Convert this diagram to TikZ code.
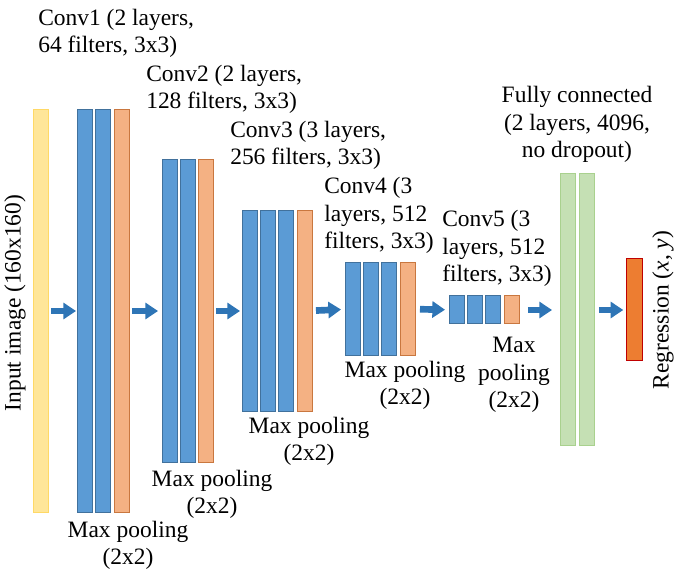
\documentclass[tikz,border=0pt]{standalone}
\usepackage{fontspec}
\setmainfont{Liberation Serif}
\usetikzlibrary{arrows.meta}
\definecolor{convfill}{HTML}{5B9BD5}
\definecolor{convline}{HTML}{41719C}
\definecolor{poolfill}{HTML}{F4B183}
\definecolor{poolline}{HTML}{C9773F}
\definecolor{inputfill}{HTML}{FFE699}
\definecolor{inputline}{HTML}{FFD966}
\definecolor{fcfill}{HTML}{C5E0B4}
\definecolor{fcline}{HTML}{A9D18E}
\definecolor{regfill}{HTML}{ED7D31}
\definecolor{regline}{HTML}{C00000}
\definecolor{flowblue}{HTML}{2E75B6}
\tikzset{
  bar/.style={draw, line width=0.75pt, inner sep=0pt, minimum width=11.6pt},
  convbar/.style={bar, fill=convfill, draw=convline},
  poolbar/.style={bar, fill=poolfill, draw=poolline},
  flow/.style={draw=flowblue, line width=5pt, -{Triangle[length=9.5pt,width=12pt]}},
  lbl/.style={font=\fontsize{17.6}{20.8}\selectfont, inner sep=0pt},
}

\begin{document}
\begin{tikzpicture}[x=0.75pt, y=-0.75pt]
		\useasboundingbox (0,0) rectangle (679,573);
		
		%%%%% INPUT %%%%%
		\node[bar, fill=inputfill, draw=inputline, minimum height=302.25pt] (inp) at (41.25,311) {};
		\node[lbl, rotate=90] (inptext) at (15,303) {Input image (160x160)};
		
		%%%%% CONV1 %%%%%
		\node[convbar, minimum height=302.25pt] (c1a) at (85.25,311) {};
		\node[convbar, minimum height=302.25pt] (c1b) at (103.25,311) {};
		\node[poolbar, minimum height=302.25pt] (c1p) at (121.75,311) {};
		
		%%%%% CONV2 %%%%%
		\node[convbar, minimum height=227.25pt] (c2a) at (170.25,311) {};
		\node[convbar, minimum height=227.25pt] (c2b) at (188.25,311) {};
		\node[poolbar, minimum height=227.25pt] (c2p) at (206.25,311) {};
		
		%%%%% CONV3 %%%%%
		\node[convbar, minimum height=150.75pt] (c3a) at (250.25,311) {};
		\node[convbar, minimum height=150.75pt] (c3b) at (268.25,311) {};
		\node[convbar, minimum height=150.75pt] (c3c) at (286.25,311) {};
		\node[poolbar, minimum height=150.75pt] (c3p) at (304.75,311) {};
		
		%%%%% CONV4 %%%%%
		\node[convbar, minimum height=69.75pt] (c4a) at (353.25,309) {};
		\node[convbar, minimum height=69.75pt] (c4b) at (371.25,309) {};
		\node[convbar, minimum height=69.75pt] (c4c) at (389.25,309) {};
		\node[poolbar, minimum height=69.75pt] (c4p) at (407.75,309) {};
		
		%%%%% CONV5 %%%%%
		\node[convbar, minimum height=21pt] (c5a) at (457.25,310) {};
		\node[convbar, minimum height=21pt] (c5b) at (475.25,310) {};
		\node[convbar, minimum height=21pt] (c5c) at (493.25,310) {};
		\node[poolbar, minimum height=21pt] (c5p) at (511.75,310) {};
		
		%%%%% FULLY CONNECTED + REGRESSION %%%%%
		\node[bar, fill=fcfill, draw=fcline, minimum height=204pt] (fca) at (568.25,310) {};
		\node[bar, fill=fcfill, draw=fcline, minimum height=204pt] (fcb) at (586.75,310) {};
		\node[bar, fill=regfill, draw=regline, minimum height=76.5pt] (reg) at (634.5,310) {};
		\node[lbl, rotate=90] (regtext) at (663,310) {Regression (\textit{x}, \textit{y})};
		
		%%%%% ARROWS %%%%%
		\draw[flow, shorten <=1.5pt, shorten >=0.75pt] (inp) -- (c1a);
		\draw[flow, shorten <=1.5pt, shorten >=3pt] (c1p) -- (c2a);
		\draw[flow, shorten <=1.5pt, shorten >=1.5pt] (c2p) -- (c3a);
		\draw[flow, shorten <=2.25pt, shorten >=3pt] (c3p) -- (c4a);
		\draw[flow, shorten <=3pt, shorten >=3pt] (c4p) -- (c5a);
		\draw[flow, shorten <=6pt, shorten >=6pt] (c5p) -- (fca);
		\draw[flow, shorten <=3pt, shorten >=2.25pt] (fcb) -- (reg);
		
		%%%%% LABELS (anchored at the last line) %%%%%
		\node[lbl, anchor=base west, align=left] (c1text) at (38,53) {Conv1 (2 layers,\\64 filters, 3x3)};
		\node[lbl, anchor=base west, align=left] (c2text) at (146,109) {Conv2 (2 layers,\\128 filters, 3x3)};
		\node[lbl, anchor=base west, align=left] (c3text) at (230,165) {Conv3 (3 layers,\\256 filters, 3x3)};
		\node[lbl, anchor=base west, align=left] (c4text) at (324,249) {Conv4 (3\\layers, 512\\filters, 3x3)};
		\node[lbl, anchor=base west, align=left] (c5text) at (442,282) {Conv5 (3\\layers, 512\\filters, 3x3)};
		\node[lbl, anchor=base, align=center] (fctext) at (577,158) {Fully connected\\(2 layers, 4096,\\no dropout)};
		
		\node[lbl, anchor=base, align=center] (p1text) at (128,565) {Max pooling\\(2x2)};
		\node[lbl, anchor=base, align=center] (p2text) at (212,514) {Max pooling\\(2x2)};
		\node[lbl, anchor=base, align=center] (p3text) at (309,461) {Max pooling\\(2x2)};
		\node[lbl, anchor=base, align=center] (p4text) at (405,405) {Max pooling\\(2x2)};
		\node[lbl, anchor=base, align=center] (p5text) at (514,408) {Max\\pooling\\(2x2)};
		
	\end{tikzpicture}
\end{document}
